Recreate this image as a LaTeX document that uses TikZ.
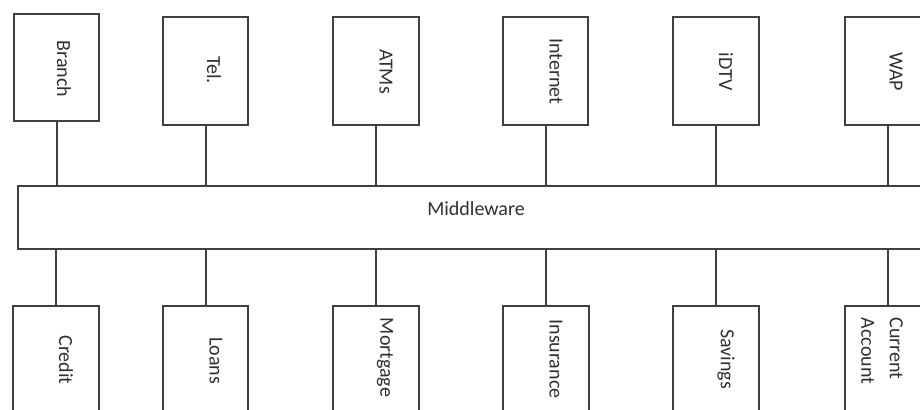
\documentclass[tikz,border=0pt]{standalone}
\usepackage{fontspec}
\setmainfont{Carlito}
\definecolor{linec}{HTML}{404040}
\definecolor{textc}{HTML}{303030}
\begin{document}
\begin{tikzpicture}[x=0.75pt,y=-0.75pt,
  box/.style={draw=linec, line width=1.5pt, fill=white, rectangle, inner sep=0pt,
              minimum width=64pt, minimum height=80.5pt},
  bus/.style={draw=linec, line width=1.5pt, fill=white, rectangle, inner sep=0pt,
              minimum width=687pt, minimum height=47.25pt},
  conn/.style={draw=linec, line width=1.5pt},
  lbl/.style={text=textc, font=\fontsize{15}{21.5}\selectfont, inner sep=0pt, rotate=-90},
  hlbl/.style={text=textc, font=\fontsize{15}{21.5}\selectfont, inner sep=0pt}
]
\useasboundingbox (0,0) rectangle (920,410);
\fill[white] (0,0) rectangle (920,410);
\clip (0,0) rectangle (920,410);

% middleware bus
\node[bus] (mw) at (476,217.5) {};
\node[hlbl] (mwl) at (476,209) {Middleware};

% top boxes
\node[box] (tBranch) at (56.5,67.5) {};
\node[box] (tTel) at (205.5,71) {};
\node[box] (tATM) at (376,71) {};
\node[box] (tInt) at (545.5,71) {};
\node[box] (tTV) at (716,71) {};
\node[box] (tWAP) at (888,71) {};

% bottom boxes
\node[box] (bCredit) at (56,359.5) {};
\node[box] (bLoans) at (205.5,359.5) {};
\node[box] (bMort) at (376,359.5) {};
\node[box] (bIns) at (546,359.5) {};
\node[box] (bSav) at (716,359.5) {};
\node[box] (bCur) at (888,359.5) {};

% connectors
\foreach \n in {tBranch,tTel,tATM,tInt,tTV,tWAP}{
  \draw[conn] (\n.south) -- (\n.south |- mw.north);
}
\foreach \n in {bCredit,bLoans,bMort,bIns,bSav,bCur}{
  \draw[conn] (\n.north) -- (\n.north |- mw.south);
}

% labels
\node[lbl] (lBranch) at (64,69) {Branch};
\node[lbl] (lTel) at (214,70) {Tel.};
\node[lbl] (lATM) at (386,71.5) {ATMs};
\node[lbl] (lInt) at (556,71.5) {Internet};
\node[lbl] (lTV) at (726,71.5) {iDTV};
\node[lbl] (lWAP) at (896,71.5) {WAP};

\node[lbl] (lCredit) at (66,360) {Credit};
\node[lbl] (lLoans) at (216,360.5) {Loans};
\node[lbl] (lMort) at (385,357.5) {Mortgage};
\node[lbl] (lIns) at (556,359) {Insurance};
\node[lbl] (lSav) at (726,359) {Savings};
\node[lbl, align=left] (lCur) at (882,351) {Current\\Account};
\end{tikzpicture}
\end{document}
